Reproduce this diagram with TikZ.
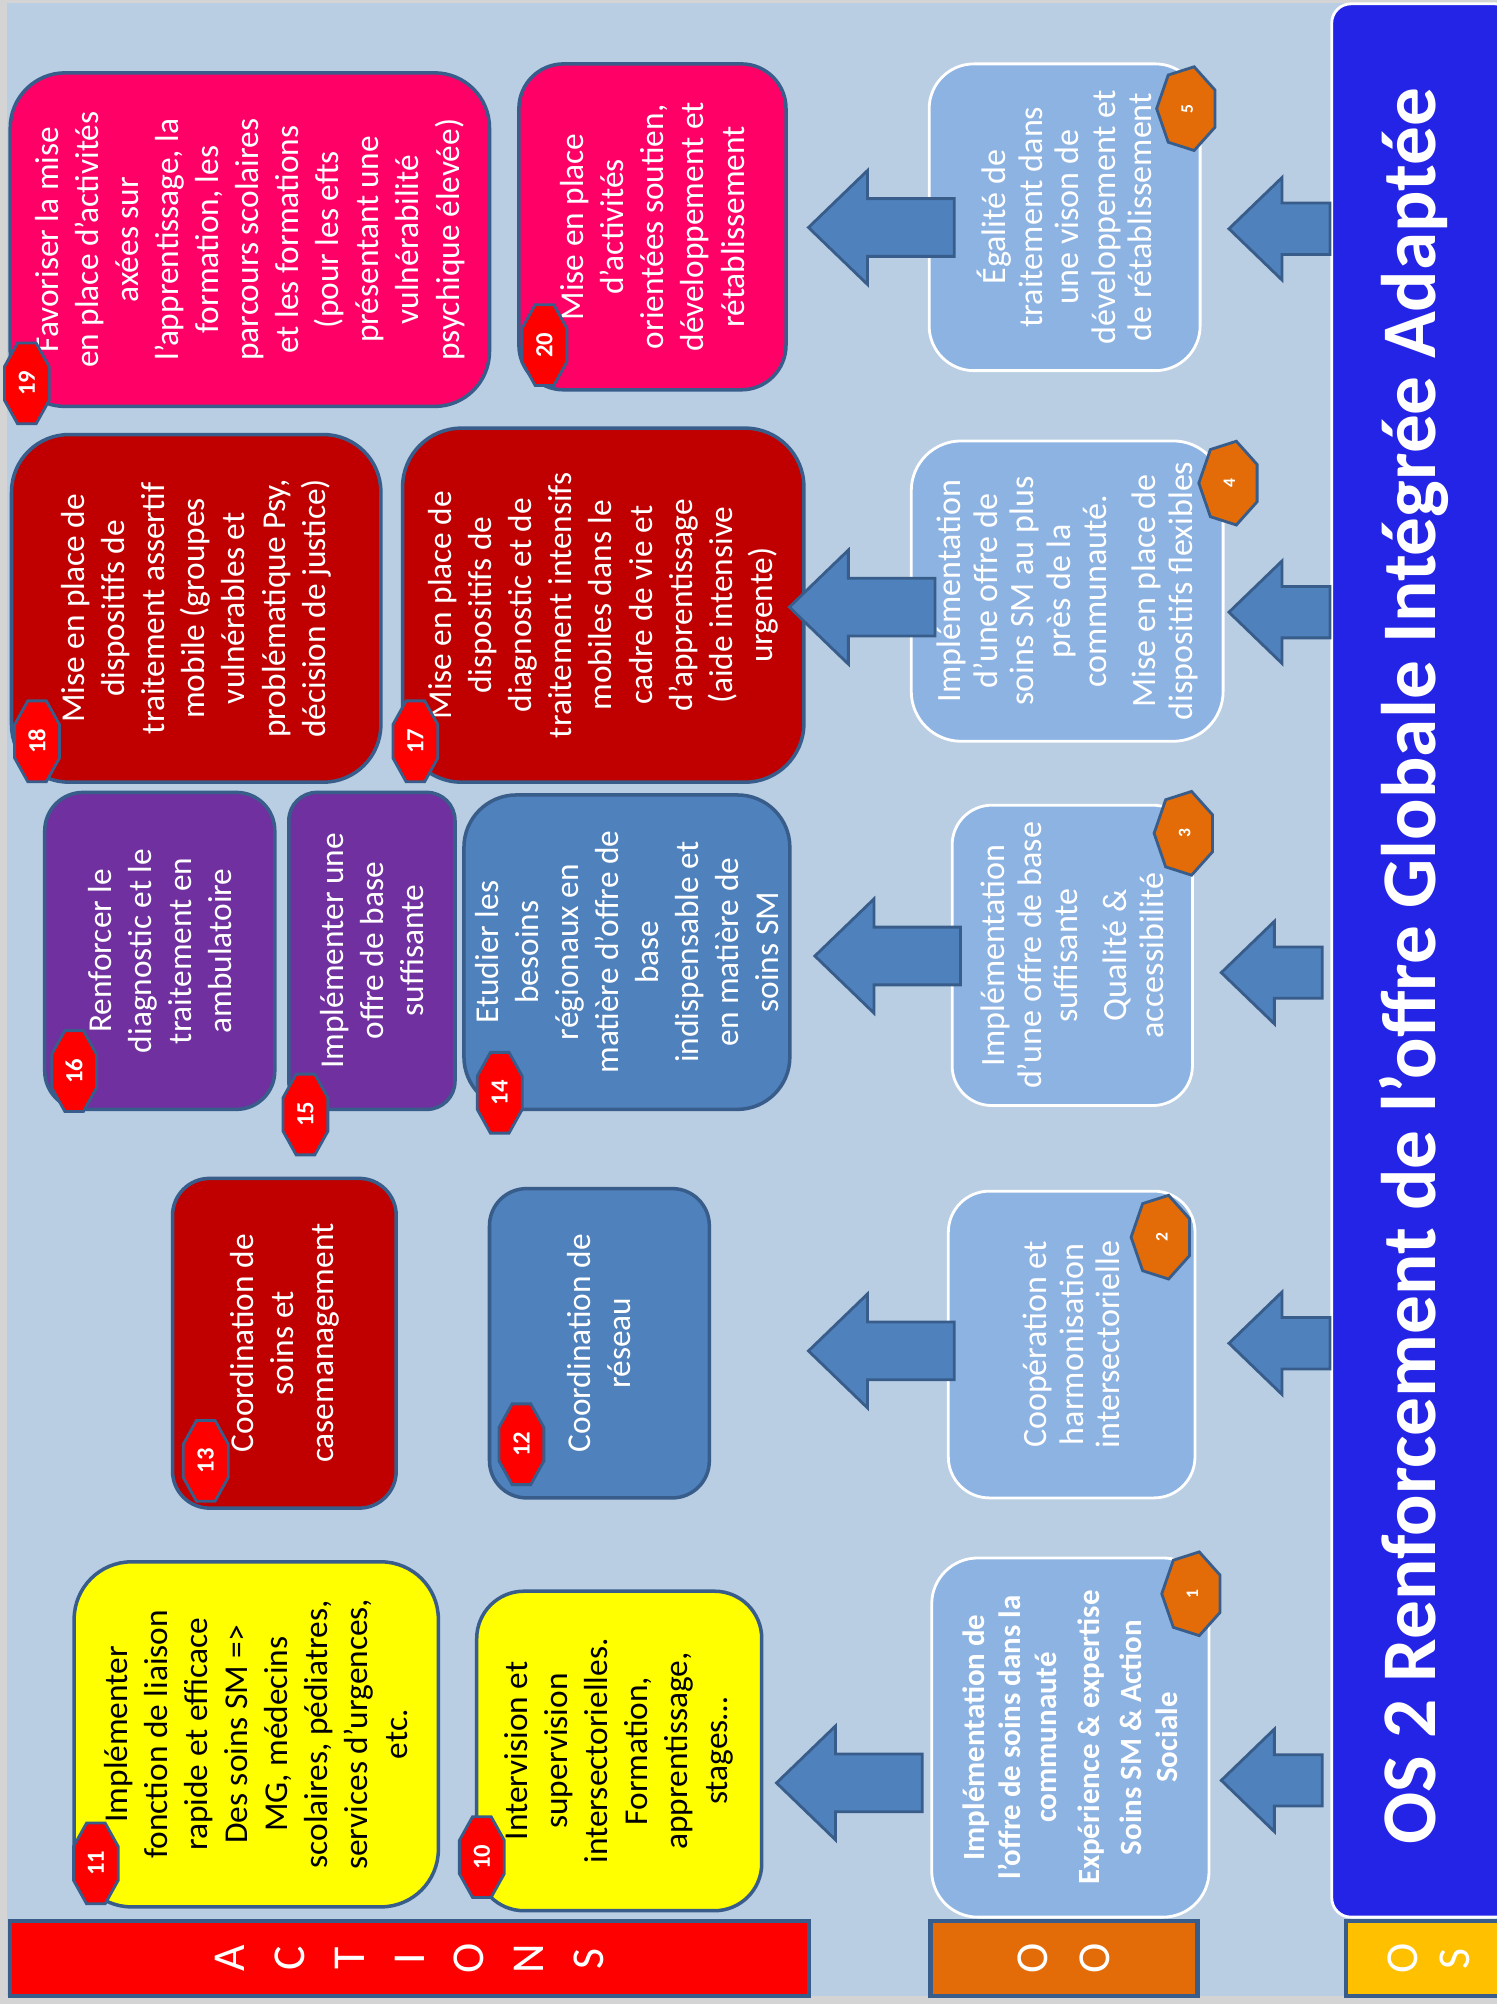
\documentclass[tikz,border=0pt]{standalone}
\usepackage{fontspec}
\setmainfont{Carlito}
\usetikzlibrary{shapes.geometric,shapes.arrows}

\newcommand{\pxl}{0.012784cm}

\definecolor{framegray}{HTML}{D4D4D4}
\definecolor{bgblue}{HTML}{B9CDE3}
\definecolor{edge}{HTML}{385D8A}
\definecolor{oofill}{HTML}{8DB3E2}
\definecolor{banner}{HTML}{2424E6}
\definecolor{arrfill}{HTML}{4F81BD}
\definecolor{pinkact}{HTML}{FF0066}
\definecolor{redact}{HTML}{C00000}
\definecolor{purpact}{HTML}{7030A0}
\definecolor{blueact}{HTML}{4F81BD}
\definecolor{yelact}{HTML}{FFFF00}
\definecolor{orng}{HTML}{E36C09}
\definecolor{gold}{HTML}{FFC000}

\tikzset{
  action/.style={rotate=90, draw=edge, line width=1pt, text=white, align=center, inner sep=1pt,
    font=\fontsize{9.5}{11.4}\selectfont},
  objective/.style={rotate=90, draw=white, line width=0.8pt, fill=oofill, text=white, align=center,
    inner sep=1pt, font=\fontsize{9.7}{10.4}\selectfont},
  bar/.style={rotate=90, draw=edge, line width=1.2pt, text=white, align=center, inner sep=0pt,
    font=\fontsize{13}{17}\selectfont},
  redbadge/.style={regular polygon, regular polygon sides=8, minimum size=38*\pxl, yscale=1.8,
    draw=edge, line width=0.8pt, fill=red, inner sep=0pt},
  orangebadge/.style={regular polygon, regular polygon sides=7, minimum size=48*\pxl, rotate=90,
    xscale=1.4, draw=edge, line width=0.8pt, fill=orng, inner sep=0pt},
  rnum/.style={rotate=90, text=white, inner sep=0pt, font=\fontsize{7}{8}\selectfont\bfseries},
  onum/.style={rotate=90, text=white, inner sep=0pt, font=\fontsize{5}{6}\selectfont\bfseries},
  upperarrow/.style={single arrow, rotate=180, draw=edge, line width=0.8pt, fill=arrfill,
    inner xsep=0pt, inner ysep=21.5*\pxl, minimum height=114*\pxl,
    single arrow head extend=22*\pxl, single arrow tip angle=88},
  lowerarrow/.style={single arrow, rotate=180, draw=edge, line width=0.8pt, fill=arrfill,
    inner xsep=0pt, inner ysep=19*\pxl, minimum height=79*\pxl,
    single arrow head extend=20*\pxl, single arrow tip angle=88}
}

\begin{document}
\begin{tikzpicture}[x=\pxl, y=-\pxl]
\useasboundingbox (0,0) rectangle (1171,1568);
\fill[framegray] (0,0) rectangle (1171,1568);
\fill[bgblue] (5.5,2.3) rectangle (1171,1562);

\node[rotate=90, fill=banner, draw=white, line width=0.8pt, rounded corners=15*\pxl,
  minimum width=1497*\pxl, minimum height=143*\pxl, inner sep=0pt] (os) at (1113.5,751.5) {};
\node[rotate=90, text=white, font=\fontsize{22}{26}\selectfont\bfseries] (title) at (1106,756)
  {OS 2 Renforcement de l’offre Globale Intégrée Adaptée};

\node[bar, fill=red, minimum width=59*\pxl, minimum height=625*\pxl] (actions) at (320.5,1532.5)
  {A\\C\\T\\I\\O\\N\\S};
\node[bar, fill=orng, minimum width=59*\pxl, minimum height=209*\pxl,
  font=\fontsize{13}{17.6}\selectfont] (oo) at (832.5,1532.5) {O\\O};
\node[bar, fill=gold, minimum width=59*\pxl, minimum height=130*\pxl,
  font=\fontsize{13}{14.8}\selectfont] (osbar) at (1118,1532.5) {O\\S};

\node[action, fill=pinkact, minimum width=261*\pxl, minimum height=375*\pxl, rounded corners=43*\pxl]
  (a19) at (195.5,187.5) {Favoriser la mise\\en place d’activités\\axées sur\\l’apprentissage, la\\formation, les\\parcours scolaires\\et les formations\\(pour les efts\\présentant une\\vulnérabilité\\psychique élevée)};
\node[action, fill=pinkact, minimum width=255*\pxl, minimum height=209*\pxl, rounded corners=35*\pxl]
  (a20) at (510.5,177.5) {Mise en place\\d’activités\\orientées soutien,\\développement et\\rétablissement};
\node[action, fill=redact, minimum width=272*\pxl, minimum height=289*\pxl, rounded corners=45*\pxl]
  (a18) at (153.5,476) {Mise en place de\\dispositifs de\\traitement assertif\\mobile (groupes\\vulnérables et\\problématique Psy,\\décision de justice)};
\node[action, fill=redact, minimum width=277*\pxl, minimum height=314*\pxl, rounded corners=46*\pxl]
  (a17) at (472,473.5) {Mise en place de\\dispositifs de\\diagnostic et de\\traitement intensifs\\mobiles dans le\\cadre de vie et\\d’apprentissage\\(aide intensive\\urgente)};
\node[action, fill=purpact, minimum width=248*\pxl, minimum height=180*\pxl, rounded corners=30*\pxl]
  (a16) at (125,744) {Renforcer le\\diagnostic et le\\traitement en\\ambulatoire};
\node[action, fill=purpact, minimum width=248*\pxl, minimum height=130*\pxl, rounded corners=22*\pxl]
  (a15) at (291,744) {Implémenter une\\offre de base\\suffisante};
\node[action, fill=blueact, minimum width=246*\pxl, minimum height=255*\pxl, rounded corners=41*\pxl]
  (a14) at (490.5,745) {Etudier les\\besoins\\régionaux en\\matière d’offre de\\base\\indispensable et\\en matière de\\soins SM};
\node[action, fill=redact, minimum width=258*\pxl, minimum height=175*\pxl, rounded corners=29*\pxl]
  (a13) at (222.5,1051) {Coordination de\\soins et\\casemanagement};
\node[action, fill=blueact, minimum width=242*\pxl, minimum height=172*\pxl, rounded corners=29*\pxl]
  (a12) at (469,1051) {Coordination de\\réseau};
\node[action, fill=yelact, text=black, minimum width=270*\pxl, minimum height=285*\pxl, rounded corners=45*\pxl]
  (a11) at (200.5,1357) {Implémenter\\fonction de liaison\\rapide et efficace\\Des soins SM =>\\MG, médecins\\scolaires, pédiatres,\\services d’urgences,\\etc.};
\node[action, fill=yelact, text=black, minimum width=250*\pxl, minimum height=223*\pxl, rounded corners=37*\pxl]
  (a10) at (484.5,1370) {Intervision et\\supervision\\intersectorielles.\\Formation,\\apprentissage,\\stages…};

\node[objective, minimum width=240*\pxl, minimum height=212*\pxl, rounded corners=35*\pxl]
  (oo5) at (833,170) {Égalité de\\traitement dans\\une vison de\\développement et\\de rétablissement};
\node[objective, minimum width=235*\pxl, minimum height=244*\pxl, rounded corners=39*\pxl]
  (oo4) at (835,462.5) {Implémentation\\d’une offre de\\soins SM au plus\\près de la\\communauté.\\[3.5pt]Mise en place de\\dispositifs flexibles};
\node[objective, minimum width=235*\pxl, minimum height=188*\pxl, rounded corners=31*\pxl]
  (oo3) at (839,747.5) {Implémentation\\d’une offre de base\\suffisante\\[3.5pt]Qualité \&\\accessibilité};
\node[objective, minimum width=240*\pxl, minimum height=193*\pxl, rounded corners=32*\pxl]
  (oo2) at (838.5,1052) {Coopération et\\harmonisation\\intersectorielle};
\node[objective, minimum width=281*\pxl, minimum height=217*\pxl, rounded corners=36*\pxl,
  font=\fontsize{8.8}{10.2}\selectfont\bfseries]
  (oo1) at (837.5,1359.5) {Implémentation de\\l’offre de soins dans la\\communauté\\[2pt]Expérience \& expertise\\[2pt]Soins SM \& Action\\Sociale};

\node[upperarrow, anchor=tip] (u5) at (631,178) {};
\node[upperarrow, anchor=tip] (u4) at (616,475) {};
\node[upperarrow, anchor=tip] (u3) at (636,748) {};
\node[upperarrow, anchor=tip] (u2) at (631,1057) {};
\node[upperarrow, anchor=tip] (u1) at (606,1395) {};

\node[lowerarrow, anchor=tip] (l5) at (960,179) {};
\node[lowerarrow, anchor=tip] (l4) at (960,479) {};
\node[lowerarrow, anchor=tip] (l3) at (954,761) {};
\node[lowerarrow, anchor=tip] (l2) at (960,1051) {};
\node[lowerarrow, anchor=tip] (l1) at (954,1393) {};

\node[redbadge] (b19) at (21,300) {};
\node[rnum] (n19) at (b19) {19};
\node[redbadge] (b20) at (426,270) {};
\node[rnum] (n20) at (b20) {20};
\node[redbadge] (b18) at (29,580) {};
\node[rnum] (n18) at (b18) {18};
\node[redbadge] (b17) at (325,580) {};
\node[rnum] (n17) at (b17) {17};
\node[redbadge] (b16) at (58,838) {};
\node[rnum] (n16) at (b16) {16};
\node[redbadge] (b15) at (239,872) {};
\node[rnum] (n15) at (b15) {15};
\node[redbadge] (b14) at (391,855) {};
\node[rnum] (n14) at (b14) {14};
\node[redbadge] (b13) at (161,1143) {};
\node[rnum] (n13) at (b13) {13};
\node[redbadge] (b12) at (408,1130) {};
\node[rnum] (n12) at (b12) {12};
\node[redbadge] (b11) at (75,1458) {};
\node[rnum] (n11) at (b11) {11};
\node[redbadge] (b10) at (377,1453) {};
\node[rnum] (n10) at (b10) {10};

\node[orangebadge] (c5) at (929,85) {};
\node[onum] (m5) at (c5) {5};
\node[orangebadge] (c4) at (962,378) {};
\node[onum] (m4) at (c4) {4};
\node[orangebadge] (c3) at (927,652) {};
\node[onum] (m3) at (c3) {3};
\node[orangebadge] (c2) at (909,968) {};
\node[onum] (m2) at (c2) {2};
\node[orangebadge] (c1) at (933,1247) {};
\node[onum] (m1) at (c1) {1};

\end{tikzpicture}
\end{document}
